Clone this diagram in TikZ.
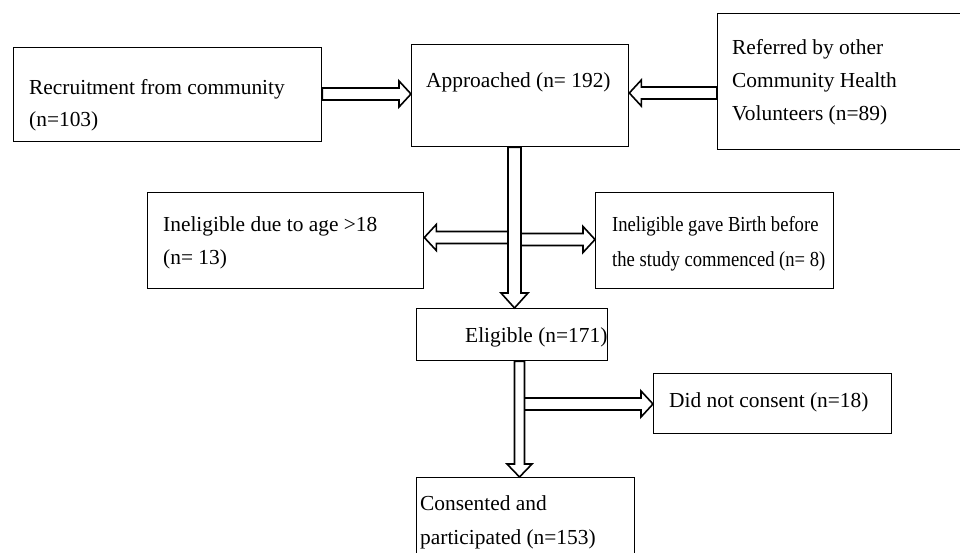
\documentclass[tikz,border=0pt]{standalone}
\usepackage{fontspec}
\usepackage{graphicx}
\setmainfont{Liberation Serif}
\usetikzlibrary{calc}
% horizontal block arrow: #1 start, #2 tip (same y)
\newcommand{\hblock}[2]{%
  \draw[blk] let \p1=(#1), \p2=(#2), \n1={sign(\x2-\x1)} in
    (\x1,\y1+6pt) -- (\x2-\n1*12pt,\y1+6pt) -- (\x2-\n1*12pt,\y1+13pt) -- (\x2,\y1)
    -- (\x2-\n1*12pt,\y1-13pt) -- (\x2-\n1*12pt,\y1-6pt) -- (\x1,\y1-6pt) -- cycle;}
% vertical (downward) block arrow: #1 start, #2 tip, #3 half shaft, #4 half head, #5 head length
\newcommand{\vblock}[5]{%
  \draw[blk] let \p1=(#1), \p2=(#2) in
    (\x1-#3,\y1) -- (\x1-#3,\y2+#5) -- (\x1-#4,\y2+#5) -- (\x1,\y2)
    -- (\x1+#4,\y2+#5) -- (\x1+#3,\y2+#5) -- (\x1+#3,\y1) -- cycle;}
\newcommand{\narrowtext}[1]{\scalebox{0.87}[1]{#1}}
\begin{document}
\begin{tikzpicture}[x=1pt,y=-1pt,
  box/.style={draw, line width=1.3pt, inner sep=0pt, anchor=north west},
  txt/.style={inner sep=0pt, anchor=base west, font=\fontsize{21.4}{26}\selectfont},
  blk/.style={draw, fill=white, line width=1.6pt, line join=miter}]
\path[use as bounding box] (0,0) rectangle (960,553);
\clip (0,0) rectangle (960,553);

% boxes
\node[box, minimum width=308pt, minimum height=94pt]  (b1)   at (13,47)  {};
\node[box, minimum width=217pt, minimum height=102pt] (app)  at (411,44) {};
\node[box, minimum width=260pt, minimum height=136pt] (ref)  at (717,13) {};
\node[box, minimum width=276pt, minimum height=96pt]  (inl)  at (147,192) {};
\node[box, minimum width=238pt, minimum height=96pt]  (inr)  at (595,192) {};
\node[box, minimum width=191pt, minimum height=52pt]  (elig) at (416,308) {};
\node[box, minimum width=238pt, minimum height=60pt]  (dnc)  at (653,373) {};
\node[box, minimum width=218pt, minimum height=90pt]  (cons) at (416,477) {};

% texts
\node[txt] (t1a) at (29,95)  {Recruitment from community};
\node[txt] (t1b) at (29,127) {(n=103)};
\node[txt] (t2)  at (426,88) {Approached (n= 192)};
\node[txt] (t3a) at (732,55)  {Referred by other};
\node[txt] (t3b) at (732,88)  {Community Health};
\node[txt] (t3c) at (732,121) {Volunteers (n=89)};
\node[txt] (t4a) at (163,232) {Ineligible due to age >18};
\node[txt] (t4b) at (163,265) {(n= 13)};
\node[txt] (t5a) at (612,232) {\narrowtext{Ineligible gave Birth before}};
\node[txt] (t5b) at (612,266) {\narrowtext{the study commenced (n= 8)}};
\node[txt] (t6)  at (465,342) {Eligible (n=171)};
\node[txt] (t7)  at (669,407) {Did not consent (n=18)};
\node[txt] (t8a) at (420,510) {Consented and};
\node[txt] (t8b) at (420,544) {participated (n=153)};

% helper coordinates
\coordinate (yA) at (0,94);
\coordinate (yB) at (0,93);
\coordinate (xV1) at (514.5,0);
\coordinate (sL) at (508,237.5);
\coordinate (sR) at (521,239.5);
\coordinate (xV2) at (519.5,0);
\coordinate (sD) at (524,404);

% arrows
\hblock{b1.east |- yA}{app.west |- yA}
\hblock{ref.west |- yB}{app.east |- yB}
\hblock{sL}{inl.east |- sL}
\hblock{sR}{inr.west |- sR}
\vblock{xV1 |- app.south}{xV1 |- elig.north}{6.5pt}{13.5pt}{15pt}
\hblock{sD}{dnc.west |- sD}
\vblock{xV2 |- elig.south}{xV2 |- cons.north}{5pt}{12.5pt}{13pt}
\end{tikzpicture}
\end{document}
